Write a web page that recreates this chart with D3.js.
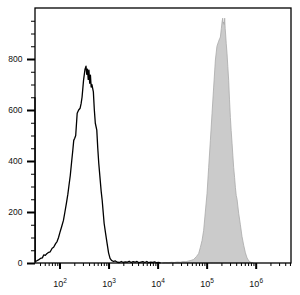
<!DOCTYPE html>
<html><head><meta charset="utf-8">
<script src="https://cdn.jsdelivr.net/npm/d3@7"></script>
<style>html,body{margin:0;padding:0;background:#fff;}svg{display:block;}</style>
</head><body>
<svg id="chart" width="300" height="295"></svg>
<script>
// log10 positions of histogram bins and counts
const blackLogX = [1.500,1.505,1.53,1.57,1.61,1.65,1.68,1.71,1.74,1.78,1.81,1.85,1.88,1.92,1.95,1.98,2.01,2.04,2.08,2.11,2.14,2.17,2.19,2.22,2.25,2.27,2.29,2.31,2.33,2.36,2.39,2.42,2.44,2.46,2.49,2.52,2.54,2.555,2.57,2.585,2.60,2.615,2.63,2.645,2.66,2.69,2.71,2.73,2.76,2.78,2.80,2.83,2.85,2.87,2.89,2.91,2.94,2.97,3.00,3.03,3.06,3.10,3.14,3.18,3.22,3.26,3.30,3.34,3.38,3.42,3.46,3.50,3.54,3.58,3.62,3.66,3.70,3.74,3.78,3.82,3.86,3.90,3.94,3.98,4.02,4.06];
const blackCounts = [650,5,8,12,18,20,32,30,36,42,44,58,62,76,84,100,121,140,167,200,234,270,300,344,403,440,481,489,500,587,600,607,625,651,717,760,772,740,760,720,756,705,737,690,700,671,600,548,521,450,391,324,280,246,200,155,115,77,40,18,10,6,8,3,2,6,2,4,3,7,2,5,3,6,1,3,5,2,6,1,3,2,4,1,2,0];
const greyLogX = [4.10,4.16,4.22,4.28,4.34,4.40,4.46,4.52,4.58,4.63,4.68,4.735,4.79,4.837,4.87,4.906,4.939,4.973,5.008,5.041,5.076,5.110,5.143,5.178,5.21,5.245,5.265,5.28,5.30,5.314,5.327,5.337,5.347,5.358,5.368,5.378,5.388,5.40,5.416,5.432,5.449,5.466,5.484,5.50,5.518,5.535,5.551,5.57,5.586,5.603,5.62,5.653,5.688,5.72,5.755,5.79,5.824,5.86,5.90,5.95];
const greyCounts = [0,2,1,3,2,4,3,6,5,8,10,14,25,37,60,88,128,200,273,375,481,587,690,796,850,870,880,886,920,945,960,940,945,935,960,920,894,860,820,770,717,640,571,520,470,420,375,335,297,265,250,195,150,105,70,40,20,8,3,0];
const yTicks = [0,200,400,600,800];
const yMinorTicks = [50,100,150,250,300,350,450,500,550,650,700,750,850,900,950];
const xTickExps = [2,3,4,5,6];

const svg = d3.select("#chart");
const x = d3.scaleLog().domain([Math.pow(10,1.5), Math.pow(10,6.72)]).range([35, 291]);
const y = d3.scaleLinear().domain([0, 1000]).range([263, 8]);

const grey = greyLogX.map((e,i)=>[Math.pow(10,e), greyCounts[i]]);
const black = blackLogX.map((e,i)=>[Math.pow(10,e), blackCounts[i]]);

svg.append("path").datum(grey)
  .attr("d", d3.area().x(d=>x(d[0])).y0(y(0)).y1(d=>y(d[1])))
  .attr("fill", "#cbcbcb").attr("stroke", "#aaaaaa").attr("stroke-width", 0.8);

svg.append("path").datum(black)
  .attr("d", d3.line().x(d=>x(d[0])).y(d=>y(d[1])))
  .attr("fill", "none").attr("stroke", "#000").attr("stroke-width", 1.3).attr("stroke-linejoin","round");

// frame
svg.append("rect").attr("x",35).attr("y",8).attr("width",256).attr("height",255)
  .attr("fill","none").attr("stroke","#000").attr("stroke-width",1.3);

// y axis
const yAx = svg.append("g").attr("transform","translate(35,0)");
yAx.call(d3.axisLeft(y).tickValues(yTicks).tickSize(8).tickFormat(""))
  .call(g=>g.select(".domain").remove())
  .call(g=>g.selectAll("line").attr("stroke-width",2));
yAx.append("g").call(d3.axisLeft(y).tickValues(yMinorTicks).tickSize(4).tickFormat(""))
  .call(g=>g.select(".domain").remove());
yAx.selectAll("text.lab").data(yTicks).join("text").attr("class","lab")
  .attr("x",-12.5).attr("y",d=>y(d)).attr("dy","0.35em").attr("text-anchor","end")
  .attr("font-family","Arial, Liberation Sans, sans-serif").attr("font-size",8.5).attr("fill","#111")
  .text(d=>d);

// x axis
const xMinor = [];
for (let d=1; d<=6; d++) for (let k=2;k<=9;k++){ const v=k*Math.pow(10,d); if (v>=x.domain()[0] && v<=x.domain()[1]) xMinor.push(v);}
const xAx = svg.append("g").attr("transform","translate(0,263)");
xAx.call(d3.axisBottom(x).tickValues(xTickExps.map(e=>Math.pow(10,e))).tickSize(6).tickFormat(""))
  .call(g=>g.select(".domain").remove())
  .call(g=>g.selectAll("line").attr("stroke-width",2));
xAx.append("g").call(d3.axisBottom(x).tickValues(xMinor).tickSize(3).tickFormat(""))
  .call(g=>g.select(".domain").remove());
const labs = xAx.selectAll("text.lab").data(xTickExps).join("text").attr("class","lab")
  .attr("x",e=>x(Math.pow(10,e))+0.5).attr("y",24)
  .attr("font-family","Arial, Liberation Sans, sans-serif").attr("font-size",9).attr("fill","#111");
labs.append("tspan").text("10");
labs.append("tspan").attr("dy",-4.5).attr("font-size",6.5).text(e=>e);
</script>
</body></html>
